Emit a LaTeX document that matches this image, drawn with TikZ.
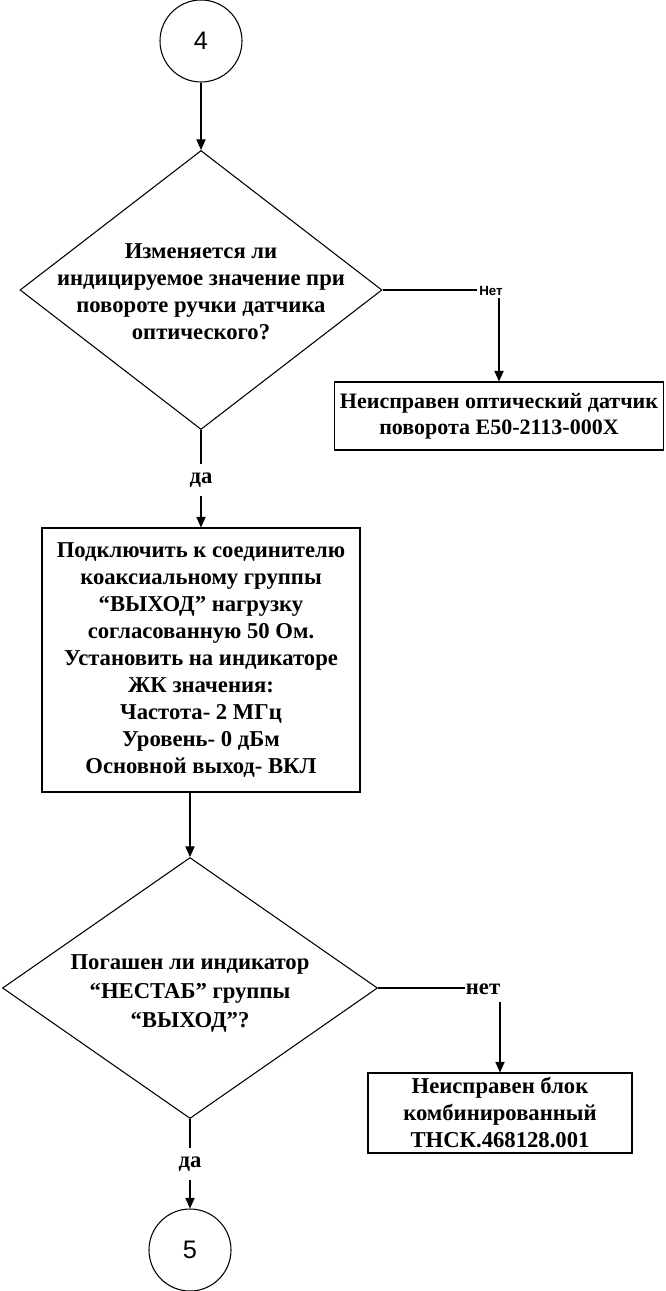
\documentclass[tikz,border=0pt]{standalone}
\usepackage{fontspec}
\setmainfont{Liberation Serif}
\newfontfamily\arialfont{Liberation Sans}
\usetikzlibrary{shapes.geometric,arrows.meta}
\begin{document}
\begin{tikzpicture}[x=0.75pt,y=-0.75pt,
  line width=0.8pt,
  every node/.style={font=\bfseries\fontsize{17}{20.25}\selectfont},
  conn/.style={-{Triangle[width=7pt,length=8pt]}},
  circ/.style={circle,draw,minimum size=61.5pt,inner sep=0pt,font=\arialfont\fontsize{19}{21}\selectfont},
  dia/.style={diamond,draw,inner sep=0pt},
  dtext/.style={align=center,inner sep=0pt},
  box/.style={rectangle,draw,align=center,inner sep=0pt},
  lbl/.style={inner sep=0pt,minimum height=22.5pt},
  sanslbl/.style={inner sep=1pt,font=\arialfont\bfseries\fontsize{10}{12}\selectfont}]
\useasboundingbox (0,0) rectangle (665,1291);

\node[circ] (c4) at (201,41) {4};
\node[dia,minimum width=271.5pt,minimum height=209.25pt] (d1) at (201,290) {};
\node[dtext] (t1) at ([yshift=-1.5pt]d1.center) {Изменяется ли\\индицируемое значение при\\повороте ручки датчика\\оптического?};
\node[box,minimum width=246.75pt,minimum height=51pt,font=\bfseries\fontsize{16.5}{19.5}\selectfont] (b1) at (499,416) {Неисправен оптический датчик\\поворота Е50-2113-000Х};
\node[sanslbl] (n1) at (491,291) {Нет};
\node[lbl] (y1) at (201,480) {да};
\node[box,minimum width=238.5pt,minimum height=198pt] (b2) at (201,660) {Подключить к соединителю\\коаксиальному группы\\“ВЫХОД” нагрузку\\согласованную 50 Ом.\\Установить на индикаторе\\ЖК значения:\\Частота- 2 МГц\\Уровень- 0 дБм\\Основной выход- ВКЛ};
\node[dia,minimum width=281.25pt,minimum height=195.75pt] (d2) at (190,988) {};
\node[dtext,font=\bfseries\fontsize{17}{21.5}\selectfont] (t2) at ([yshift=-4pt]d2.center) {Погашен ли индикатор\\“НЕСТАБ” группы\\“ВЫХОД”?};
\node[box,minimum width=198pt,minimum height=60pt] (b3) at (500,1113) {Неисправен блок\\комбинированный\\ТНСК.468128.001};
\node[inner sep=0pt,minimum height=18pt] (n2) at (483,989) {нет};
\node[lbl] (y2) at (190,1164) {да};
\node[circ] (c5) at (190,1250) {5};

\draw[conn] (c4) -- (d1.north);
\draw (d1.east) -- (d1.east -| n1.west);
\draw[conn] (b1.north |- n1.south) -- (b1.north);
\draw (d1.south) -- (d1.south |- y1.north);
\draw[conn] (b2.north |- y1.south) -- (b2.north);
\draw[conn] (b2.south -| d2.north) -- (d2.north);
\draw (d2.east) -- (d2.east -| n2.west);
\draw[conn] (b3.north |- n2.south) -- (b3.north);
\draw (d2.south) -- (d2.south |- y2.north);
\draw[conn] (c5.north |- y2.south) -- (c5.north);
\end{tikzpicture}
\end{document}
